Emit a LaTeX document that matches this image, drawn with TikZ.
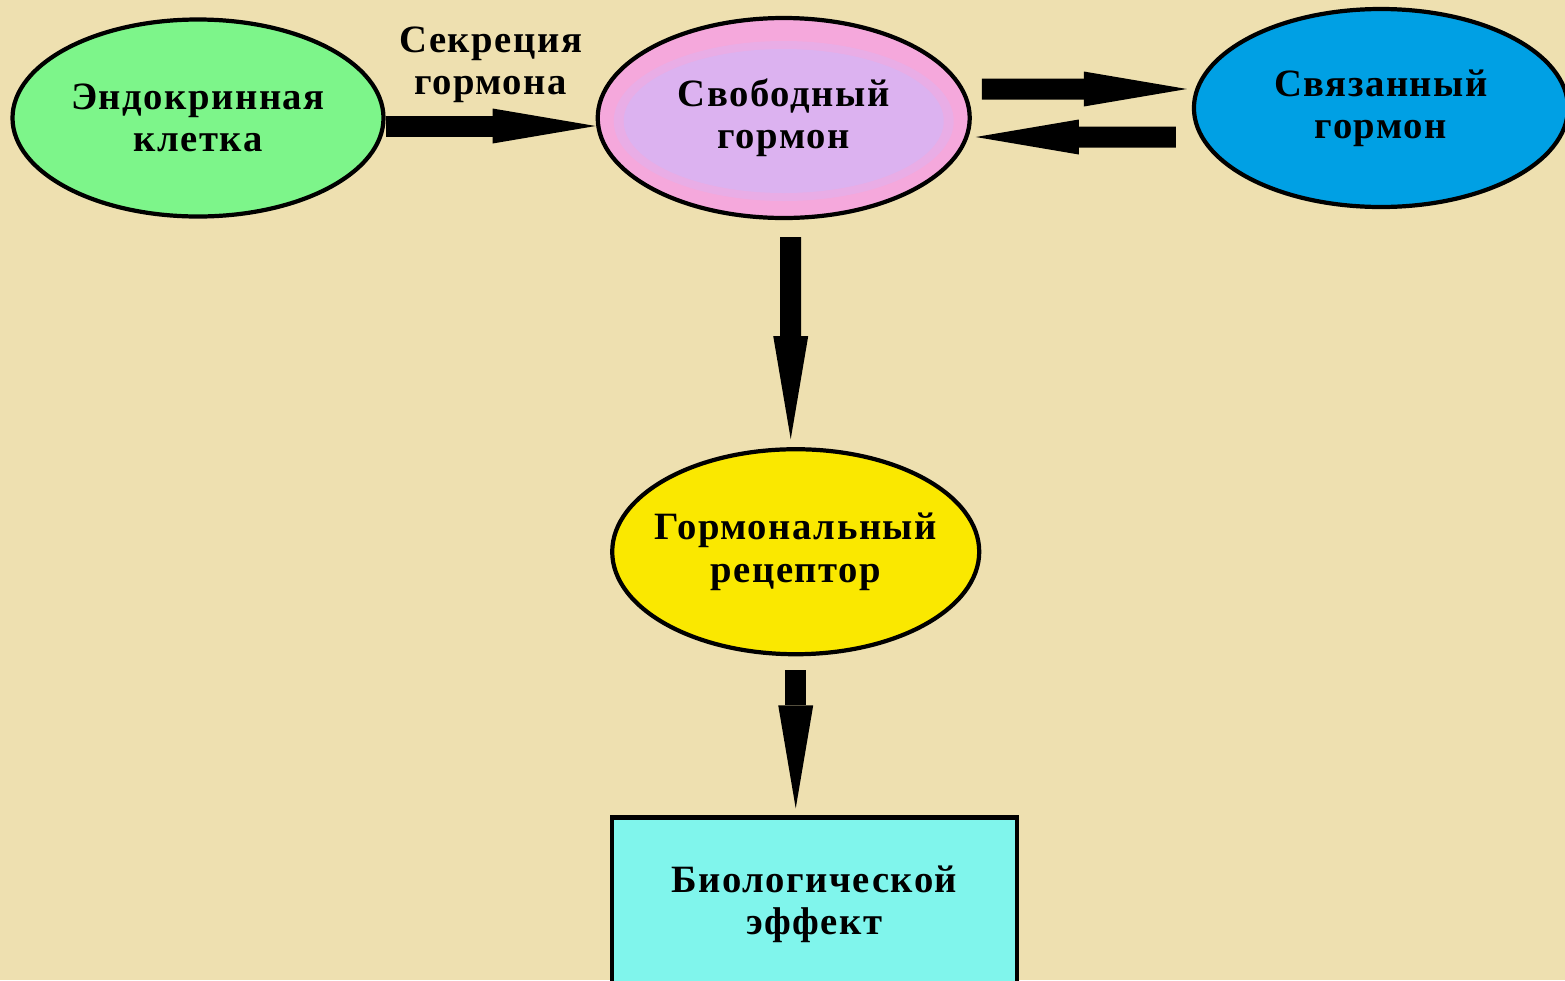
\documentclass[tikz,border=0pt]{standalone}
\usepackage{fontspec}
\setmainfont{Liberation Serif}[LetterSpace=4]
\usepackage{xcolor}
\usetikzlibrary{shapes,arrows.meta,positioning,calc}

\definecolor{bgcol}{RGB}{238,224,176}
\definecolor{cellgreen}{RGB}{125,245,138}
\definecolor{freepink}{RGB}{245,168,220}
\definecolor{freelav}{RGB}{220,178,240}
\definecolor{boundblue}{RGB}{0,160,228}
\definecolor{recyellow}{RGB}{250,232,0}
\definecolor{effcyan}{RGB}{128,245,236}

\begin{document}
\begin{tikzpicture}[node distance=2cm, auto,
    txt/.style={font=\fontsize{11}{12}\selectfont\bfseries, align=center},
    oval/.style={ellipse, draw, line width=1.2pt, inner sep=0pt, inner xsep=-0.25cm, txt},
    bigarrow/.style={line width=0.21cm, -{Triangle[length=1.03cm, width=0.35cm, line width=0pt]}}]
    \useasboundingbox (0,0) rectangle (15.65,9.8);
    \fill[bgcol] (0,0) rectangle (15.65,9.8);
    \clip (0,0) rectangle (15.65,9.8);

    \node[oval, fill=cellgreen, minimum width=3.71cm, minimum height=1.97cm] (endo) at (1.98,8.62) {Эндокринная\\клетка};
    \node[oval, fill=freepink, minimum width=3.72cm, minimum height=2cm, right=2.1cm of endo,
        path picture={
            \fill[freepink!50!freelav] ([yshift=-0.03cm]path picture bounding box.center) ellipse (1.70 and 0.80);
            \fill[freelav] ([yshift=-0.03cm]path picture bounding box.center) ellipse (1.60 and 0.72);
        }] (free) {Свободный\\гормон};
    \node[oval, fill=boundblue, minimum width=3.74cm, minimum height=1.98cm, right=2.2cm of free, yshift=0.1cm] (bound) {Связанный\\гормон};
    \node[oval, fill=recyellow, minimum width=3.67cm, minimum height=2.05cm, below=2.27cm of free, xshift=0.12cm] (rec) {Гормональный\\рецептор};
    \node[rectangle, draw, line width=1.2pt, fill=effcyan, txt, minimum width=4.05cm, minimum height=1.73cm, below=1.59cm of rec, xshift=0.185cm] (effect) {Биологической\\эффект};

    % Arrows
    \draw[bigarrow] ([yshift=-0.08cm]endo.east) -- ([yshift=-0.08cm]free.west)
        node[midway, above=0.01cm, txt] (secr) {Секреция\\гормона};
    \draw[bigarrow, shorten <=0.1cm, shorten >=0.05cm] ([yshift=0.29cm]free.east) -- ([yshift=0.19cm]bound.west);
    \draw[bigarrow, shorten <=0.16cm, shorten >=0.04cm] ([yshift=-0.29cm]bound.west) -- ([yshift=-0.19cm]free.east);
    \draw[bigarrow, shorten <=0.17cm, shorten >=0.08cm] ([xshift=0.07cm]free.south) -- ([xshift=-0.05cm]rec.north);
    \draw[bigarrow, shorten <=0.14cm, shorten >=0.07cm] (rec.south) -- ([xshift=-0.185cm]effect.north);
\end{tikzpicture}
\end{document}
